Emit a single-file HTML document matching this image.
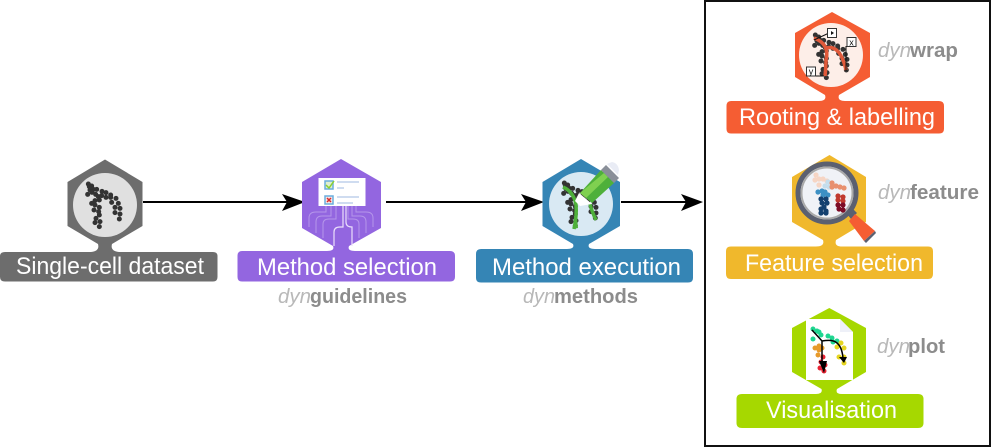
<!DOCTYPE html>
<html><head><meta charset="utf-8"><style>
html,body{margin:0;padding:0;background:#fff;width:991px;height:447px;overflow:hidden}
svg{display:block}
text{font-family:"Liberation Sans","DejaVu Sans",sans-serif}
.l{fill:#fff;font-size:24px}
.d{fill:#b8b8b8;font-size:20px;font-style:italic}
.b{fill:#8c8c8c;font-size:20px;font-weight:bold}
</style></head><body>
<svg width="991" height="447" viewBox="0 0 991 447" xmlns="http://www.w3.org/2000/svg">
<defs>
<g id="dots" fill="#333">
<circle cx="-50" cy="-63" r="7.500"/><circle cx="-47" cy="-55" r="7.500"/><circle cx="-40" cy="-57" r="7.500"/><circle cx="-45" cy="-45" r="7.500"/><circle cx="-35" cy="-47" r="7.500"/><circle cx="-25" cy="-47" r="7.500"/><circle cx="-39" cy="-38" r="7.500"/><circle cx="-52" cy="-32" r="7.500"/><circle cx="-28" cy="-32" r="7.500"/><circle cx="-20" cy="-25" r="7.500"/><circle cx="-9" cy="-41" r="7.500"/><circle cx="-10" cy="-28" r="7.500"/><circle cx="3" cy="-37" r="7.500"/><circle cx="3" cy="-23" r="7.500"/><circle cx="17" cy="-30" r="7.500"/><circle cx="17" cy="-23" r="7.500"/><circle cx="33" cy="-20" r="7.500"/><circle cx="20" cy="-8" r="7.500"/><circle cx="40" cy="-5" r="7.500"/><circle cx="30" cy="7" r="7.500"/><circle cx="45" cy="10" r="7.500"/><circle cx="45" cy="27" r="7.500"/><circle cx="30" cy="23" r="7.500"/><circle cx="43" cy="42" r="7.500"/><circle cx="-30" cy="-13" r="7.500"/><circle cx="-17" cy="-15" r="7.500"/><circle cx="-40" cy="-5" r="7.500"/><circle cx="-30" cy="0" r="7.500"/><circle cx="-17" cy="7" r="7.500"/><circle cx="-33" cy="15" r="7.500"/><circle cx="-19" cy="20" r="7.500"/><circle cx="-17" cy="30" r="7.500"/><circle cx="-27" cy="40" r="7.500"/><circle cx="-15" cy="50" r="7.500"/><circle cx="-30" cy="53" r="7.500"/><circle cx="-17" cy="65" r="7.500"/>
</g>
</defs>

<!-- container -->
<rect x="705" y="1" width="285" height="445" fill="none" stroke="#111" stroke-width="2"/>

<!-- connectors -->
<g stroke="#000" stroke-width="2" fill="none">
<path d="M143 202H290"/><path d="M386 202H530"/><path d="M621 202H690"/>
</g>
<g fill="#000">
<path d="M305 202L282 194L287 202L282 211Z"/>
<path d="M544 202L521 194L526 202L521 211Z"/>
<path d="M703 202L681 194L686 202L681 211Z"/>
</g>

<!-- Node 1 -->
<path fill="#6d6d6d" d="M105 159.500L142.500 182V226L112 244Q110 251 119 252H213Q217.500 252 217.500 256V277Q217.500 281.500 213 281.500H5Q0 281.500 0 277V256Q0 252 5 252H91Q100 251 98 244L67.500 226V182Z"/>
<circle cx="105" cy="205" r="32" fill="#e0e0e0"/>
<use href="#dots" transform="translate(105 205) scale(.3333)"/>
<text class="l" x="16" y="274" textLength="188" lengthAdjust="spacingAndGlyphs">Single-cell dataset</text>

<!-- Node 2 -->
<path fill="#9366e0" d="M341 159L381 182V228L349 246Q347 251 355 251H450Q455 251 455 256V277Q455 281.500 450 281.500H242Q237.500 281.500 237.500 277V256Q237.500 251 242 251H327Q335 251 333 246L302 228V182Z"/>
<g fill="none" stroke="#b596ea" stroke-width="1">
<path d="M309 227V218Q309 212 316 212H326V206"/><path d="M316 233V222Q316 216 322 216H331V206"/><path d="M323 238V224Q323 219 329 219H336V206"/>
<path d="M373 227V218Q373 212 366 212H356V206"/><path d="M366 233V222Q366 216 360 216H352V206"/><path d="M359 238V224Q359 219 353 219H348V206"/>
</g>
<path d="M334 246V232Q334 227 340 227H343V206M346 206V222Q346 227 352 227V246" fill="none" stroke="#eadffb" stroke-width="1.200"/>
<rect x="318.500" y="178" width="47" height="28" fill="#fff"/>
<rect x="325" y="181" width="8" height="8" fill="#dff0d0" stroke="#6aaede" stroke-width="1.500"/>
<path d="M326 185L329 188L334 181" fill="none" stroke="#8ad030" stroke-width="1.500"/>
<rect x="325" y="196" width="8" height="8" fill="#f7e4e4" stroke="#6aaede" stroke-width="1.500"/>
<path d="M327 198L331 202M331 198L327 202" stroke="#d92b2b" stroke-width="1.500"/>
<g fill="#cfdcf0"><rect x="337" y="181" width="22" height="2"/><rect x="337" y="187" width="7" height="2"/><rect x="337" y="196" width="22" height="2"/><rect x="337" y="202" width="16" height="2"/></g>
<text class="l" x="257" y="275" textLength="180" lengthAdjust="spacingAndGlyphs">Method selection</text>
<text class="d" x="278" y="303" textLength="33" lengthAdjust="spacingAndGlyphs">dyn</text>
<text class="b" x="310" y="303" textLength="97" lengthAdjust="spacingAndGlyphs">guidelines</text>

<!-- Node 3 -->
<path fill="#3585b5" d="M581 159L620 182V226L589 244Q587 249 595 249H688Q693 249 693 254V278Q693 282.500 688 282.500H481Q476 282.500 476 278V254Q476 249 481 249H567Q575 249 573 244L542.500 226V182Z"/>
<circle cx="581" cy="204" r="32" fill="#d9e9f3"/>
<use href="#dots" transform="translate(581 204) scale(.3333)"/>
<g fill="none" stroke="#4eb03a" stroke-width="3.500">
<path d="M563 187Q574 192 576 205Q577 215 574 229"/><path d="M590 204Q592 212 596 220"/>
</g>
<path d="M573 229L577 218L578 228Z" fill="#4eb03a"/>
<path d="M580 193L601 170L614 183L592 203Z" fill="#4eb03a"/>
<path d="M580 193L604 173L608 177L586 198Z" fill="#7fd050"/>
<path d="M579 193L592 204L580 206L575 201Z" fill="#fff"/>
<path d="M601 170L606 165L619 178L614 183Z" fill="#8a8f99"/>
<path d="M607 164L612 162Q618 163 619 170L618 175Z" fill="#e9ecf5"/>
<text class="l" x="492" y="275" textLength="189" lengthAdjust="spacingAndGlyphs">Method execution</text>
<text class="d" x="523" y="303" textLength="32" lengthAdjust="spacingAndGlyphs">dyn</text>
<text class="b" x="554" y="303" textLength="84" lengthAdjust="spacingAndGlyphs">methods</text>

<!-- Node 4 -->
<path fill="#f55d33" d="M832 12L870 33V77L839 95Q837 101 845 101H939Q944 101 944 106V129Q944 133.500 939 133.500H731Q726.500 133.500 726.500 129V106Q726.500 101 731 101H819Q827 101 825 95L795 77V33Z"/>
<circle cx="831" cy="55" r="32" fill="#fdeee8"/>
<use href="#dots" transform="translate(832 56) scale(.3333)"/>
<path d="M814 38Q830 44 826 60Q826 66 825 76M826 48Q840 44 846 70" fill="none" stroke="#e0593a" stroke-width="3.500"/>
<path d="M814 40L829 33M846 46V71M812 76H824" stroke="#111" stroke-width="1" fill="none"/>
<g fill="#fff" stroke="#333" stroke-width="1">
<rect x="827.500" y="28.500" width="9" height="9"/><rect x="847" y="37.500" width="9" height="9"/><rect x="806.500" y="67" width="9" height="9"/>
</g>
<path d="M831 31V35L834 33Z" fill="#111"/>
<text x="851.500" y="45.500" font-size="9" text-anchor="middle" fill="#111">x</text>
<text x="811" y="74.500" font-size="9" text-anchor="middle" fill="#111">y</text>
<text class="l" x="739" y="125" textLength="196" lengthAdjust="spacingAndGlyphs">Rooting &amp; labelling</text>
<text class="d" x="878" y="57" textLength="33" lengthAdjust="spacingAndGlyphs">dyn</text>
<text class="b" x="910" y="57" textLength="48" lengthAdjust="spacingAndGlyphs">wrap</text>

<!-- Node 5 -->
<path fill="#f0b82c" d="M829.500 155L866 177V222L836 240Q834 246.500 842 246.500H928Q933 246.500 933 251V274Q933 279 928 279H731Q726 279 726 274V251Q726 246.500 731 246.500H816Q825 246.500 823 240L792 222V177Z"/>
<circle cx="827" cy="193" r="29" fill="#f0f2f7" stroke="#5b6070" stroke-width="5"/>
<circle cx="827" cy="193" r="25.500" fill="none" stroke="#aaa" stroke-width="2"/>
<path d="M847 214L853 209L857 213L851 219Z" fill="#5b6070"/>
<path d="M849 221L855 214L875 231L864 241Z" fill="#f55d33"/>
<path d="M864 241L875 231L876 233L866 243Z" fill="#5b6070"/>
<g fill="#f6d5c4"><circle cx="816" cy="175" r="2.600"/><circle cx="819" cy="179" r="2.600"/><circle cx="815" cy="180" r="2.600"/><circle cx="819" cy="185" r="2.600"/><circle cx="823" cy="179" r="2.600"/><circle cx="827" cy="181" r="2.600"/></g>
<g fill="#c4ddec"><circle cx="828" cy="182" r="2.600"/><circle cx="825" cy="186" r="2.600"/><circle cx="829" cy="187" r="2.600"/></g>
<g fill="#e8906f"><circle cx="832" cy="183" r="2.600"/><circle cx="832" cy="187" r="2.600"/><circle cx="836" cy="186" r="2.600"/><circle cx="840" cy="187" r="2.600"/><circle cx="844" cy="188" r="2.600"/></g>
<g fill="#3d90c4"><circle cx="818" cy="192" r="2.600"/><circle cx="822" cy="191" r="2.600"/><circle cx="825" cy="192" r="2.600"/><circle cx="823" cy="195" r="2.600"/><circle cx="828" cy="195" r="2.600"/></g>
<g fill="#c0392f"><circle cx="838" cy="196" r="2.600"/><circle cx="843" cy="197" r="2.600"/><circle cx="838" cy="200" r="2.600"/><circle cx="843" cy="201" r="2.600"/></g>
<g fill="#7d0c26"><circle cx="838" cy="205" r="2.600"/><circle cx="843" cy="205" r="2.600"/><circle cx="843" cy="210" r="2.600"/><circle cx="839" cy="209" r="2.600"/></g>
<g fill="#14406f"><circle cx="821" cy="199" r="2.600"/><circle cx="826" cy="199" r="2.600"/><circle cx="822" cy="203" r="2.600"/><circle cx="827" cy="203" r="2.600"/><circle cx="824" cy="207" r="2.600"/><circle cx="821" cy="209" r="2.600"/><circle cx="826" cy="211" r="2.600"/><circle cx="821" cy="213" r="2.600"/><circle cx="826" cy="213" r="2.600"/></g>
<text class="l" x="745" y="271" textLength="178" lengthAdjust="spacingAndGlyphs">Feature selection</text>
<text class="d" x="878" y="199" textLength="33" lengthAdjust="spacingAndGlyphs">dyn</text>
<text class="b" x="910" y="199" textLength="69" lengthAdjust="spacingAndGlyphs">feature</text>

<!-- Node 6 -->
<path fill="#a6d800" d="M829.300 308L866 328V372L837 389Q835 394 842 394H918Q923.500 394 923.500 399V423Q923.500 428 918 428H742Q736.500 428 736.500 423V399Q736.500 394 742 394H816Q823 394 821.500 389L792 372V328Z"/>
<path d="M806 319H840L853 332V380H806Z" fill="#fff"/>
<path d="M840 319L853 332H840Z" fill="#eef0f8"/>
<g fill="#1fd690"><circle cx="813" cy="329" r="2.500"/><circle cx="817" cy="331" r="2.500"/><circle cx="819" cy="332" r="2.500"/><circle cx="821" cy="335" r="2.500"/><circle cx="828" cy="336" r="2.500"/><circle cx="832" cy="338" r="2.500"/><circle cx="837" cy="341" r="2.500"/><circle cx="813" cy="339" r="2.500"/><circle cx="833" cy="342" r="2.500"/></g>
<g fill="#e79a2a"><circle cx="815" cy="348" r="2.500"/><circle cx="819" cy="346" r="2.500"/><circle cx="819" cy="350" r="2.500"/><circle cx="822" cy="348" r="2.500"/><circle cx="818" cy="355" r="2.500"/></g>
<g fill="#e6d520"><circle cx="841" cy="343" r="2.500"/><circle cx="837" cy="347" r="2.500"/><circle cx="844" cy="348" r="2.500"/><circle cx="844" cy="357" r="2.500"/><circle cx="839" cy="357" r="2.500"/><circle cx="844" cy="363" r="2.500"/></g>
<g fill="#e92434"><circle cx="823" cy="357" r="2.500"/><circle cx="821" cy="362" r="2.500"/><circle cx="820" cy="368" r="2.500"/><circle cx="825" cy="365" r="2.500"/><circle cx="824" cy="371" r="2.500"/><circle cx="822" cy="368" r="2.500"/></g>
<path d="M812 330L822 341Q833 339 837 343Q842 347 843 358M822 341V362" fill="none" stroke="#000" stroke-width="1.500"/>
<path d="M819 361H827L824 373Z M839 357H847L844 363Z" fill="#000"/>
<text class="l" x="766" y="418" textLength="131" lengthAdjust="spacingAndGlyphs">Visualisation</text>
<text class="d" x="877" y="353" textLength="33" lengthAdjust="spacingAndGlyphs">dyn</text>
<text class="b" x="908" y="353" textLength="37" lengthAdjust="spacingAndGlyphs">plot</text>
</svg>
</body></html>
